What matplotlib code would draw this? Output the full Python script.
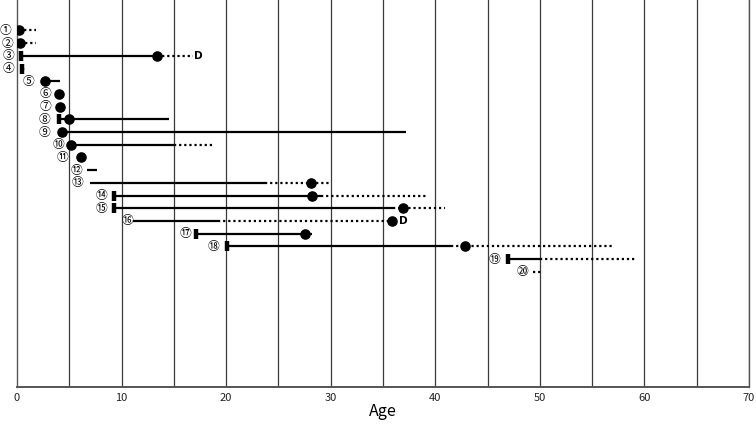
import numpy as np
import matplotlib
matplotlib.use("Agg")
import matplotlib.pyplot as plt

# ---- data (ages in years), one entry per case ----
labels = ["①", "②", "③", "④", "⑤", "⑥", "⑦", "⑧", "⑨", "⑩",
          "⑪", "⑫", "⑬", "⑭", "⑮", "⑯", "⑰", "⑱", "⑲", "⑳"]
label_age = [-1.08, -0.92, -0.86, -0.86, 1.10, 2.76, 2.76, 2.67, 2.67, 3.95,
             4.35, 5.69, 5.74, 8.12, 8.12, 10.6, 16.07, 18.8, 45.7, 48.3]
bar_age = [None, None, 0.4, 0.5, None, None, None, 4.0, None, None,
           None, None, None, 9.3, 9.3, None, 17.1, 20.1, 46.95, None]
circle_age = [0.15, 0.3, 13.4, None, 2.67, 4.0, 4.1, 4.95, 4.3, 5.2,
              6.1, None, 28.1, 28.2, 36.95, 35.9, 27.5, 42.8, None, None]
solid_start = [None, None, 0.4, None, 2.67, None, None, 4.0, 4.3, 5.2,
               None, 6.7, 6.95, 9.3, 9.3, 11.1, 17.1, 20.1, 46.95, None]
solid_end = [None, None, 13.4, None, 4.1, None, None, 14.57, 37.24, 15.05,
             None, 7.65, 23.7, 29.1, 36.0, 19.2, 27.5, 41.55, 50.0, None]
dotted_start = [0.15, 0.3, 13.4, 0.5, None, None, None, None, None, 15.05,
                None, None, 23.7, 29.1, 36.0, 19.2, 27.5, 41.55, 50.0, 49.3]
dotted_end = [1.8, 1.8, 16.8, 1.0, None, None, None, None, None, 18.6,
              None, None, 29.8, 39.2, 40.9, 35.9, 28.2, 57.1, 59.2, 50.3]
death = [False, False, True, False, False, False, False, False, False, False,
         False, False, False, False, False, True, False, False, False, False]
death_age = [None, None, 16.9, None, None, None, None, None, None, None,
             None, None, None, None, None, 36.55, None, None, None, None]

fig = plt.figure(figsize=(7.56, 4.26), dpi=100)
ax = fig.add_axes([17 / 756, 1 - 387 / 426, (749 - 17) / 756, 387 / 426])

ax.set_xlim(0, 70)
ax.set_ylim(29.07, -1.4)

# vertical grid every 5 years
for g in np.arange(5, 71, 5):
    ax.axvline(g, color="#3a3a3a", lw=0.9, zorder=1)

rows = np.arange(1, len(labels) + 1)
for i, y in enumerate(rows):
    if solid_start[i] is not None:
        ax.plot([solid_start[i], solid_end[i]], [y, y], color="black",
                lw=1.6, solid_capstyle="butt", zorder=3)
    if dotted_start[i] is not None:
        ax.plot([dotted_start[i], dotted_end[i]], [y, y], color="black",
                lw=1.6, linestyle=(0, (1, 1.3)), dash_capstyle="butt", zorder=3)
    if bar_age[i] is not None:
        ax.plot([bar_age[i]], [y], marker="|", markersize=7.5,
                markeredgewidth=3.2, color="black", zorder=4)
    if circle_age[i] is not None:
        ax.plot([circle_age[i]], [y], marker="o", markersize=6.6,
                color="black", zorder=5)
    if death[i]:
        ax.text(death_age[i], y, "D", fontsize=7.5, fontweight="bold",
                ha="left", va="center", family="DejaVu Sans", zorder=5)
    ax.text(label_age[i], y, labels[i], fontsize=8.5, ha="center",
            va="center", family=["Noto Sans CJK JP", "DejaVu Sans"],
            clip_on=False, zorder=5)

ax.set_xticks(np.arange(0, 71, 10))
ax.tick_params(axis="x", length=0, pad=4, labelsize=8)
for lbl in ax.get_xticklabels():
    lbl.set_family(["Noto Sans CJK JP", "DejaVu Sans"])
    lbl.set_color("#222222")
ax.set_yticks([])
ax.set_xlabel("Age", fontsize=11.5, family=["Noto Sans CJK JP", "DejaVu Sans"],
              labelpad=0)

ax.spines["top"].set_visible(False)
ax.spines["bottom"].set_color("#555555")
ax.spines["bottom"].set_linewidth(1.4)
ax.spines["left"].set_color("#555555")
ax.spines["left"].set_linewidth(1.0)
ax.spines["right"].set_color("#555555")
ax.spines["right"].set_linewidth(1.0)

fig.savefig("out.png", dpi=100)
